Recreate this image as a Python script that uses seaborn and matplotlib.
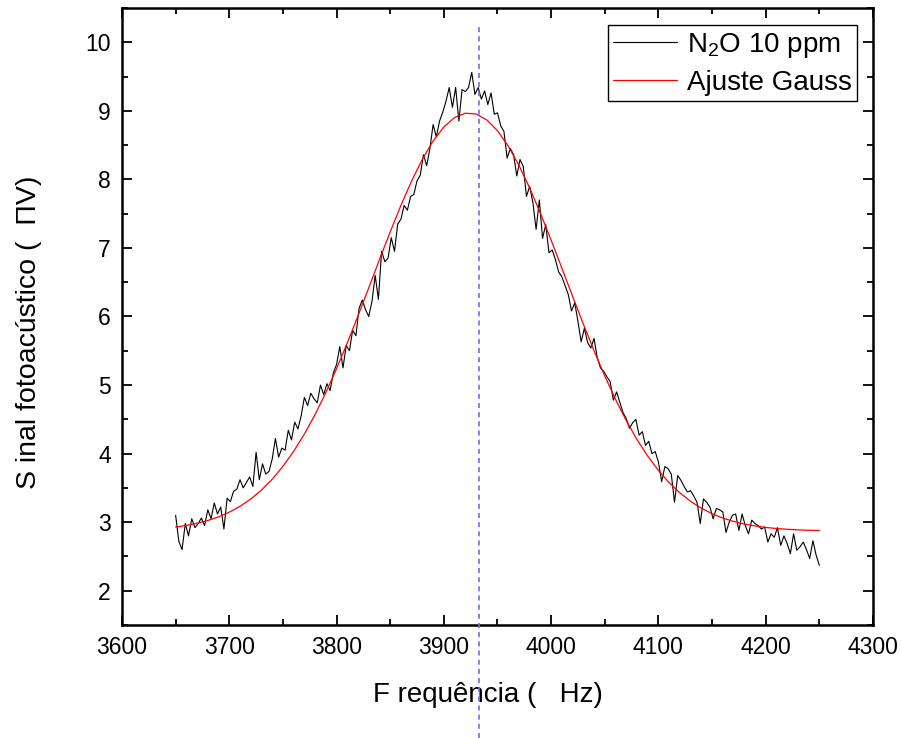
import numpy as np
import pandas as pd
import matplotlib
matplotlib.use("Agg")
import matplotlib.pyplot as plt
import seaborn as sns

# frequencias do sinal medido (passo de 3 Hz)
freq_sinal = np.arange(3650, 4251, 3)
sinal = [
    3.10, 2.72, 2.60, 2.98, 2.80, 3.05, 2.92, 2.98, 3.06, 2.95,
    3.18, 3.05, 3.28, 3.12, 3.22, 2.90, 3.35, 3.30, 3.45, 3.48,
    3.62, 3.50, 3.58, 3.66, 3.52, 4.02, 3.62, 3.85, 3.70, 3.74,
    3.92, 4.22, 3.95, 4.08, 4.05, 4.34, 4.20, 4.46, 4.36, 4.55,
    4.82, 4.70, 4.88, 4.80, 4.74, 5.00, 4.86, 5.02, 4.92, 5.18,
    5.30, 5.56, 5.25, 5.58, 5.50, 5.80, 5.72, 6.12, 6.24, 6.10,
    6.00, 6.22, 6.60, 6.25, 6.95, 6.80, 6.85, 7.15, 6.95, 7.35,
    7.42, 7.62, 7.55, 7.75, 7.78, 7.98, 8.06, 8.36, 8.20, 8.45,
    8.80, 8.62, 8.85, 8.98, 9.14, 9.34, 9.05, 9.34, 8.85, 9.31,
    9.28, 9.34, 9.56, 9.24, 9.34, 9.17, 9.29, 9.09, 9.26, 8.95,
    8.97, 8.78, 8.70, 8.31, 8.45, 8.36, 8.05, 8.29, 8.19, 7.75,
    7.90, 7.66, 7.27, 7.70, 7.14, 7.34, 6.93, 6.97, 6.83, 6.65,
    6.58, 6.45, 6.32, 6.08, 6.20, 5.93, 5.63, 5.83, 5.62, 5.54,
    5.68, 5.40, 5.25, 5.20, 5.12, 5.05, 4.78, 4.90, 4.75, 4.60,
    4.51, 4.37, 4.45, 4.50, 4.27, 4.32, 4.12, 4.18, 4.00, 4.03,
    3.88, 3.59, 3.81, 3.78, 3.70, 3.29, 3.68, 3.61, 3.52, 3.44,
    3.46, 3.38, 3.29, 2.98, 3.34, 3.29, 3.22, 3.05, 3.20, 3.18,
    3.15, 2.85, 3.00, 3.10, 3.12, 2.88, 3.12, 2.95, 2.83, 3.03,
    2.98, 2.95, 2.90, 2.93, 2.71, 2.83, 2.78, 2.92, 2.66, 2.80,
    2.69, 2.54, 2.83, 2.59, 2.64, 2.71, 2.60, 2.47, 2.73, 2.52,
    2.37,
]

# ajuste gaussiano (passo de 10 Hz)
freq_ajuste = np.arange(3650, 4251, 10)
ajuste = [
    2.929, 2.952, 2.984, 3.024, 3.077, 3.146, 3.231, 3.338, 3.468, 3.626,
    3.814, 4.033, 4.285, 4.571, 4.890, 5.239, 5.614, 6.010, 6.418, 6.830,
    7.233, 7.621, 7.978, 8.295, 8.560, 8.764, 8.902, 8.965, 8.954, 8.868,
    8.710, 8.486, 8.204, 7.874, 7.507, 7.114, 6.706, 6.295, 5.890, 5.500,
    5.132, 4.792, 4.482, 4.206, 3.964, 3.755, 3.576, 3.427, 3.304, 3.204,
    3.123, 3.060, 3.011, 2.973, 2.945, 2.923, 2.908, 2.896, 2.888, 2.882,
    2.878,
]

freq_pico = 3933
xticks = [3600, 3700, 3800, 3900, 4000, 4100, 4200, 4300]
yticks = [2, 3, 4, 5, 6, 7, 8, 9, 10]

df_sinal = pd.DataFrame({'freq': freq_sinal, 'sinal': sinal})
df_ajuste = pd.DataFrame({'freq': freq_ajuste, 'ajuste': ajuste})

sns.set_style('ticks')
plt.rcParams['font.family'] = ['Liberation Sans', 'DejaVu Sans']
plt.rcParams['mathtext.fontset'] = 'custom'
plt.rcParams['mathtext.rm'] = 'Liberation Sans'
plt.rcParams['mathtext.it'] = 'Liberation Sans:italic'
plt.rcParams['text.color'] = 'black'
plt.rcParams['axes.labelcolor'] = 'black'

fig = plt.figure(figsize=(9.01, 7.38), dpi=100)
ax = fig.add_axes([0.1354, 0.1531, 0.8335, 0.8361])

sns.lineplot(data=df_sinal, x='freq', y='sinal', color='black', lw=0.8,
             label='N$_2$O 10 ppm', ax=ax)
sns.lineplot(data=df_ajuste, x='freq', y='ajuste', color='red', lw=0.9,
             label='Ajuste Gauss', ax=ax)

ax.axvline(freq_pico, ymin=-0.183, ymax=0.976, color='#6b6bff', lw=1.2,
           ls=(0, (3, 2.5)), clip_on=False, zorder=10)

ax.set_xlim(3600, 4300)
ax.set_ylim(1.5, 10.5)
ax.set_xticks(xticks)
ax.set_yticks(yticks)
ax.set_xticks(np.arange(3650, 4300, 100), minor=True)
ax.set_yticks(np.arange(1.5, 10.6, 1), minor=True)

for s in ax.spines.values():
    s.set_linewidth(1.8)
    s.set_color('black')
ax.tick_params(which='both', direction='in', top=True, right=True,
               width=1.3, colors='black', labelcolor='black')
ax.tick_params(which='major', length=7.5, labelsize=16.5, pad=8)
ax.tick_params(which='minor', length=4)

ax.set_xlabel('F requência (   Hz)', fontsize=20)
ax.set_ylabel('S inal fotoacústico (  ΠV)', fontsize=20.5)
ax.xaxis.set_label_coords(0.487, -0.092)
ax.yaxis.set_label_coords(-0.107, 0.474)

leg = ax.legend(loc='upper right', bbox_to_anchor=(0.979, 0.972),
                borderaxespad=0, fontsize=20, frameon=True, fancybox=False,
                edgecolor='black', handlelength=2.3, handletextpad=0.35,
                borderpad=0.2, labelspacing=0.35)
leg.get_frame().set_linewidth(1.0)
leg.get_frame().set_alpha(1)

plt.savefig('out.png', dpi=100)
